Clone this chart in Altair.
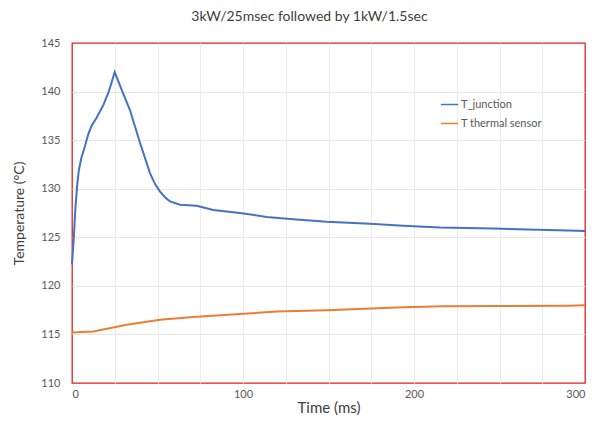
import altair as alt
import pandas as pd

t_junction_time = [0, 1, 2, 3, 4, 5.5, 7.6, 9.5, 11.5, 14.4, 18.3, 21.5, 25, 29, 33.9, 39.8, 45.6, 48.5, 51.5,
                   54.5, 57.3, 63.2, 72.9, 82.6, 98.2, 113.8, 129.4, 148.9, 174.3, 193.7, 215.2, 246.4, 290, 300]
t_junction_temp = [122.2, 124.8, 128.0, 130.3, 131.9, 133.2, 134.4, 135.6, 136.5, 137.3, 138.6, 140.0, 142.0, 140.2,
                   138.1, 134.7, 131.6, 130.5, 129.7, 129.1, 128.7, 128.35, 128.25, 127.8, 127.5, 127.1, 126.85,
                   126.6, 126.4, 126.2, 126.0, 125.9, 125.7, 125.65]

t_sensor_time = [0, 12.5, 32, 51.5, 70.9, 98.2, 119.7, 148.9, 193.7, 217, 250, 290, 300]
t_sensor_temp = [115.2, 115.3, 116.0, 116.5, 116.8, 117.1, 117.35, 117.5, 117.8, 117.9, 117.93, 117.96, 118.0]

series_names = ["T_junction", "T thermal sensor"]
series_colors = ["#4472C4", "#ED7D31"]

df = pd.concat([
    pd.DataFrame({"time": t_junction_time, "temp": t_junction_temp, "series": series_names[0]}),
    pd.DataFrame({"time": t_sensor_time, "temp": t_sensor_temp, "series": series_names[1]}),
])

FONT = "Lato"

x_grid = {"condition": {"test": "datum.value == 0 || datum.value == 300", "value": "transparent"},
          "value": "#ececec"}
y_grid = {"condition": {"test": "datum.value == 110 || datum.value == 145", "value": "transparent"},
          "value": "#e6e6e6"}

chart = alt.Chart(df).mark_line(strokeWidth=2).encode(
    x=alt.X("time:Q", title="Time (ms)",
            scale=alt.Scale(domain=[0, 300], nice=False),
            axis=alt.Axis(values=list(range(0, 301, 25)),
                          labelExpr="datum.value % 100 == 0 ? datum.label : ''",
                          grid=True, gridColor=x_grid, ticks=False, domain=False,
                          labelFontSize=11, labelColor="#595959", labelPadding=5,
                          titleFontSize=15, titleFontWeight="normal", titleColor="#404040",
                          titlePadding=1, labelFont=FONT, titleFont=FONT)),
    y=alt.Y("temp:Q", title="Temperature (°C)",
            scale=alt.Scale(domain=[110, 145], nice=False),
            axis=alt.Axis(values=list(range(110, 146, 5)),
                          grid=True, gridColor=y_grid, ticks=False, domain=False,
                          labelFontSize=11, labelColor="#595959", labelPadding=12,
                          titleFontSize=14, titleFontWeight="normal", titleColor="#404040",
                          titlePadding=14, labelFont=FONT, titleFont=FONT)),
    color=alt.Color("series:N",
                    scale=alt.Scale(domain=series_names, range=series_colors),
                    legend=alt.Legend(title=None, orient="none", legendX=368, legendY=52,
                                      symbolType="stroke", symbolSize=300, symbolStrokeWidth=1.5,
                                      labelFontSize=11, labelColor="#595959", labelFont=FONT,
                                      rowPadding=4, labelOffset=2)),
).properties(
    width=513, height=340,
    title=alt.Title("3kW/25msec followed by 1kW/1.5sec", fontSize=14, fontWeight="normal",
                    color="#404040", font=FONT, dx=-19, offset=13),
    autosize="none",
    padding={"left": 64, "top": 35, "right": 10, "bottom": 32},
).configure(background="white").configure_view(stroke="#e02020", strokeWidth=1.3)

chart.save("out.html", embed_options={"renderer": "svg", "actions": False})
